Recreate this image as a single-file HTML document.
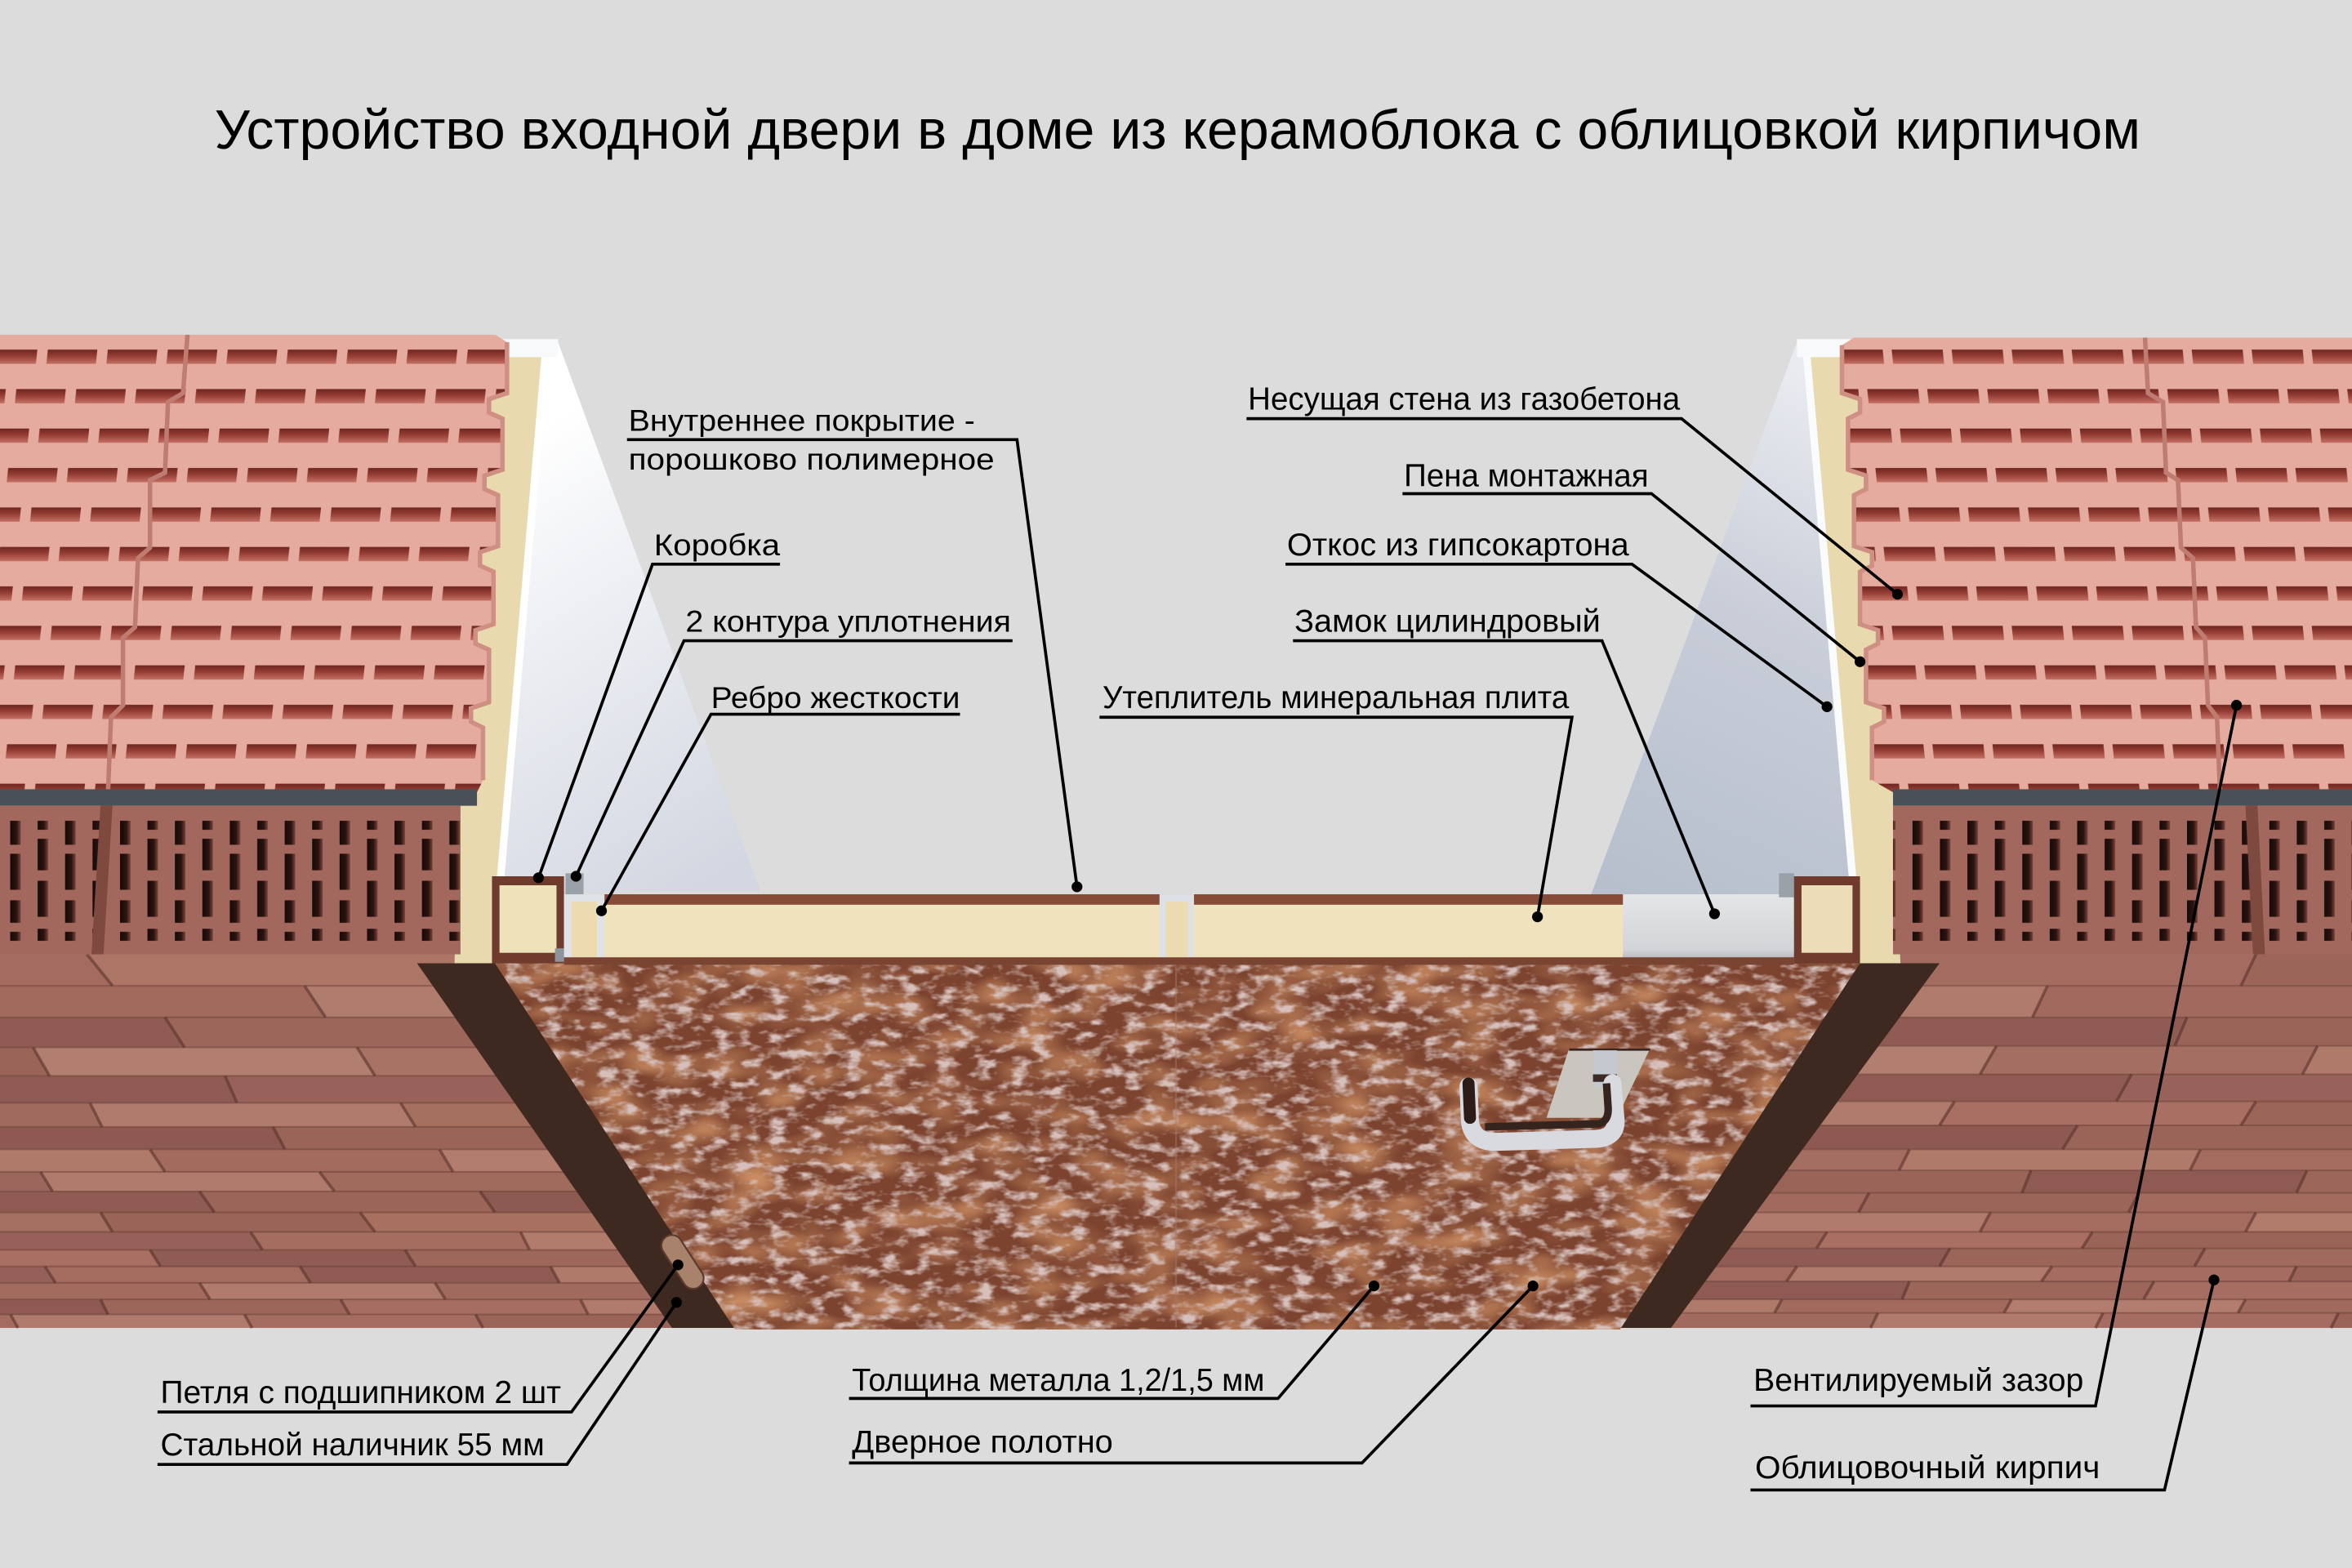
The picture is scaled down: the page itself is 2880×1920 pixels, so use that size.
<!DOCTYPE html>
<html><head><meta charset="utf-8">
<style>
html,body{margin:0;padding:0;background:#dcdcdc;}
svg{display:block;}
text{font-family:"Liberation Sans", sans-serif; fill:#000;}
</style></head><body>
<svg width="2880" height="1920" viewBox="0 0 1568 1045" preserveAspectRatio="none" xmlns="http://www.w3.org/2000/svg">
<defs>
  <linearGradient id="slot" x1="0" y1="0" x2="0" y2="1">
    <stop offset="0" stop-color="#6e2520"/><stop offset="0.45" stop-color="#953d35"/><stop offset="1" stop-color="#c47064"/>
  </linearGradient>
  <pattern id="slotsL" patternUnits="userSpaceOnUse" width="40" height="52.6" patternTransform="translate(28,232) skewX(-5.9)">
    <rect x="4" y="1" width="33" height="9.5" fill="url(#slot)"/>
    <rect x="25.7" y="27.3" width="33" height="9.5" fill="url(#slot)"/>
    <rect x="-14.3" y="27.3" width="33" height="9.5" fill="url(#slot)"/>
  </pattern>
  <pattern id="slotsR" patternUnits="userSpaceOnUse" width="40" height="52.6" patternTransform="translate(1257,232) skewX(5.9)">
    <rect x="4" y="1" width="34" height="9.5" fill="url(#slot)"/>
    <rect x="25" y="27.3" width="34" height="9.5" fill="url(#slot)"/>
    <rect x="-15" y="27.3" width="34" height="9.5" fill="url(#slot)"/>
  </pattern>
  <linearGradient id="hs" x1="0" y1="0" x2="1" y2="0">
    <stop offset="0" stop-color="#170a08"/><stop offset="0.6" stop-color="#2a1310"/><stop offset="1" stop-color="#7a4338"/>
  </linearGradient>
  <pattern id="hollowL" patternUnits="userSpaceOnUse" width="36.6" height="98" patternTransform="translate(80,538)">
    <rect x="0" y="9" width="7" height="16" fill="url(#hs)"/>
    <rect x="0" y="31" width="7" height="24" fill="url(#hs)"/>
    <rect x="0" y="62" width="7" height="15" fill="url(#hs)"/>
    <rect x="0" y="83" width="7" height="6" fill="url(#hs)"/>
    <rect x="18.3" y="9" width="7" height="6" fill="url(#hs)"/>
    <rect x="18.3" y="21" width="7" height="21" fill="url(#hs)"/>
    <rect x="18.3" y="49" width="7" height="24" fill="url(#hs)"/>
    <rect x="18.3" y="81" width="7" height="8" fill="url(#hs)"/>
  </pattern>
  <pattern id="hollowR" patternUnits="userSpaceOnUse" width="36.6" height="98" patternTransform="translate(1275,538)">
    <rect x="0" y="9" width="7" height="16" fill="url(#hs)"/>
    <rect x="0" y="31" width="7" height="24" fill="url(#hs)"/>
    <rect x="0" y="62" width="7" height="15" fill="url(#hs)"/>
    <rect x="0" y="83" width="7" height="6" fill="url(#hs)"/>
    <rect x="18.3" y="9" width="7" height="6" fill="url(#hs)"/>
    <rect x="18.3" y="21" width="7" height="21" fill="url(#hs)"/>
    <rect x="18.3" y="49" width="7" height="24" fill="url(#hs)"/>
    <rect x="18.3" y="81" width="7" height="8" fill="url(#hs)"/>
  </pattern>
  <linearGradient id="otkL" gradientUnits="userSpaceOnUse" x1="335" y1="300" x2="500" y2="570">
    <stop offset="0" stop-color="#ffffff"/><stop offset="0.35" stop-color="#eef0f4"/><stop offset="1" stop-color="#d3d7e1"/>
  </linearGradient>
  <linearGradient id="otkR" gradientUnits="userSpaceOnUse" x1="1075" y1="590" x2="1225" y2="260">
    <stop offset="0" stop-color="#b7bfcd"/><stop offset="0.55" stop-color="#c8cdd8"/><stop offset="1" stop-color="#e9ebf0"/>
  </linearGradient>
  <linearGradient id="lockG" x1="0" y1="0" x2="0" y2="1">
    <stop offset="0" stop-color="#e4e5e7"/><stop offset="0.8" stop-color="#d2d4d7"/><stop offset="1" stop-color="#a9adb2"/>
  </linearGradient>
  <filter id="mot" x="0" y="0" width="1" height="1">
    <feTurbulence type="fractalNoise" baseFrequency="0.08 0.16" numOctaves="3" seed="7" result="n"/>
    <feColorMatrix in="n" type="matrix" values="0 0 0 0 0.68  0 0 0 0 0.53  0 0 0 0 0.50  0 0 0 -3.4 1.78" result="c"/>
    <feComposite in="c" in2="SourceGraphic" operator="in"/>
  </filter>
  <filter id="rust" x="0" y="0" width="1" height="1">
    <feTurbulence type="fractalNoise" baseFrequency="0.025 0.05" numOctaves="2" seed="11" result="n"/>
    <feColorMatrix in="n" type="matrix" values="0 0 0 0 0.58  0 0 0 0 0.26  0 0 0 0 0.12  0 0 0 2.2 -0.9" result="c"/>
    <feComposite in="c" in2="SourceGraphic" operator="in"/>
  </filter>
  <clipPath id="pinkL"><polygon points="0,223 330,223 338,228 338,262 326,266 326,275 335,279 335,313 323,317 323,326 332,330 332,364 320,368 320,377 329,381 329,416 317,420 317,429 326,433 326,468 314,472 314,481 322,485 322,520 318,528 0,528"/></clipPath>
  <clipPath id="pinkR"><polygon points="1568,225 1236,225 1228,230 1228,262 1240,266 1240,275 1232,279 1232,313 1244,317 1244,326 1236,330 1236,364 1248,368 1248,377 1240,381 1240,416 1252,420 1252,429 1244,433 1244,468 1256,472 1256,481 1248,485 1248,520 1262,528 1568,528"/></clipPath>
</defs>

<rect x="0" y="0" width="1568" height="1045" fill="#dcdcdc"/>

<!-- Reveals -->
<polygon points="326,228 372,228 507,594 326,594" fill="url(#otkL)"/>
<polygon points="1198,228 1215,228 1242,598 1060,598" fill="url(#otkR)"/>

<!-- LEFT brick face rows -->
<g>
<rect x="-10" y="636" width="540" height="21" fill="#a46c60"/><polygon points="58,636 530,636 530,657 75,657" fill="#ad7566"/>
<rect x="-10" y="657" width="540" height="21" fill="#a2695d"/><polygon points="203,657 530,657 530,678 217,678" fill="#b07c6d"/>
<rect x="-10" y="678" width="540" height="20" fill="#8f5b53"/><polygon points="110,678 530,678 530,698 123,698" fill="#9c665a"/>
<rect x="-10" y="698" width="540" height="19" fill="#9a6458"/><polygon points="22,698 530,698 530,717 33,717" fill="#b27e6f"/><polygon points="238,698 530,698 530,717 250,717" fill="#a87264"/>
<rect x="-10" y="717" width="540" height="18" fill="#8e5a52"/><polygon points="150,717 530,717 530,735 158,735" fill="#98625a"/>
<rect x="-10" y="735" width="540" height="16" fill="#a06a5e"/><polygon points="60,735 530,735 530,751 68,751" fill="#b07b6c"/><polygon points="267,735 530,735 530,751 277,751" fill="#a6705f"/>
<rect x="-10" y="751" width="540" height="15" fill="#8d5951"/><polygon points="182,751 530,751 530,766 190,766" fill="#9a6459"/>
<rect x="-10" y="766" width="540" height="15" fill="#b07a6b"/><polygon points="100,766 530,766 530,781 110,781" fill="#a36b5e"/><polygon points="293,766 530,766 530,781 302,781" fill="#b27d6e"/>
<rect x="-10" y="781" width="540" height="13" fill="#9b665b"/><polygon points="27,781 530,781 530,794 35,794" fill="#b07a6c"/><polygon points="213,781 530,781 530,794 223,794" fill="#a06a5d"/>
<rect x="-10" y="794" width="540" height="14" fill="#8f5b53"/><polygon points="133,794 530,794 530,808 143,808" fill="#9c6559"/><polygon points="320,794 530,794 530,808 330,808" fill="#8d5a52"/>
<rect x="-10" y="808" width="540" height="13" fill="#a56f62"/><polygon points="67,808 530,808 530,821 75,821" fill="#9a6458"/><polygon points="240,808 530,808 530,821 250,821" fill="#a8705f"/>
<rect x="-10" y="821" width="540" height="12" fill="#96615a"/><polygon points="167,821 530,821 530,833 175,833" fill="#a56d60"/><polygon points="347,821 530,821 530,833 353,833" fill="#b27c6c"/>
<rect x="-10" y="833" width="540" height="11" fill="#a86f62"/><polygon points="100,833 530,833 530,844 107,844" fill="#8f5b53"/><polygon points="270,833 530,833 530,844 277,844" fill="#9d675b"/>
<rect x="-10" y="844" width="540" height="11" fill="#95605a"/><polygon points="30,844 530,844 530,855 37,855" fill="#a46c5f"/><polygon points="200,844 530,844 530,855 207,855" fill="#8e5a52"/><polygon points="367,844 530,844 530,855 373,855" fill="#b07a6b"/>
<rect x="-10" y="855" width="540" height="11" fill="#a36b5e"/><polygon points="133,855 530,855 530,866 140,866" fill="#b07a6c"/><polygon points="290,855 530,855 530,866 297,866" fill="#a06a5e"/>
<rect x="-10" y="866" width="540" height="10" fill="#8e5a52"/><polygon points="67,866 530,866 530,876 72,876" fill="#9d665a"/><polygon points="227,866 530,866 530,876 233,876" fill="#a66e62"/><polygon points="387,866 530,866 530,876 392,876" fill="#b07b6c"/>
<rect x="-10" y="876" width="540" height="9" fill="#a46c60"/><polygon points="7,876 530,876 530,885 12,885" fill="#b07b6c"/><polygon points="163,876 530,876 530,885 168,885" fill="#a56d61"/><polygon points="317,876 530,876 530,885 322,885" fill="#9a6458"/>
<path d="M-10 657H530M-10 678H530M-10 698H530M-10 717H530M-10 735H530M-10 751H530M-10 766H530M-10 781H530M-10 794H530M-10 808H530M-10 821H530M-10 833H530M-10 844H530M-10 855H530M-10 866H530M-10 876H530" stroke="#6a3d35" stroke-width="1.1" opacity="0.5" fill="none"/>
<path d="M58 636L75 657M203 657L217 678M110 678L123 698M22 698L33 717M238 698L250 717M150 717L158 735M60 735L68 751M267 735L277 751M182 751L190 766M100 766L110 781M293 766L302 781M27 781L35 794M213 781L223 794M133 794L143 808M320 794L330 808M67 808L75 821M240 808L250 821M167 821L175 833M347 821L353 833M100 833L107 844M270 833L277 844M30 844L37 855M200 844L207 855M367 844L373 855M133 855L140 866M290 855L297 866M67 866L72 876M227 866L233 876M387 866L392 876M7 876L12 885M163 876L168 885M317 876L322 885" stroke="#5a322b" stroke-width="2" opacity="0.6" fill="none"/>
</g>

<!-- RIGHT brick face rows -->
<g>
<rect x="1060" y="636" width="520" height="21" fill="#a46c60"/><polygon points="1504,636 1580,636 1580,657 1494,657" fill="#9c6559"/>
<rect x="1060" y="657" width="520" height="21" fill="#b07b6c"/><polygon points="1365,657 1580,657 1580,678 1355,678" fill="#a26a5e"/>
<rect x="1060" y="678" width="520" height="19" fill="#8f5b53"/><polygon points="1458,678 1580,678 1580,697 1450,697" fill="#9a6459"/>
<rect x="1060" y="697" width="520" height="19" fill="#b27e6f"/><polygon points="1331,697 1580,697 1580,716 1320,716" fill="#a56e62"/><polygon points="1545,697 1580,697 1580,716 1535,716" fill="#b07a6b"/>
<rect x="1060" y="716" width="520" height="18" fill="#8e5a52"/><polygon points="1421,716 1580,716 1580,734 1411,734" fill="#98625a"/>
<rect x="1060" y="734" width="520" height="16" fill="#b07b6c"/><polygon points="1303,734 1580,734 1580,750 1293,750" fill="#a86f62"/><polygon points="1504,734 1580,734 1580,750 1494,750" fill="#9b655a"/>
<rect x="1060" y="750" width="520" height="16" fill="#8d5951"/><polygon points="1385,750 1580,750 1580,766 1375,766" fill="#9a6459"/>
<rect x="1060" y="766" width="520" height="14" fill="#a56e62"/><polygon points="1273,766 1580,766 1580,780 1266,780" fill="#b07a6b"/><polygon points="1467,766 1580,766 1580,780 1460,780" fill="#a46c5f"/>
<rect x="1060" y="780" width="520" height="15" fill="#9a6459"/><polygon points="1354,780 1580,780 1580,795 1348,795" fill="#8e5a52"/><polygon points="1538,780 1580,780 1580,795 1531,795" fill="#9c665a"/>
<rect x="1060" y="795" width="520" height="13" fill="#a26a5e"/><polygon points="1246,795 1580,795 1580,808 1239,808" fill="#9b655a"/><polygon points="1426,795 1580,795 1580,808 1419,808" fill="#a36b5e"/>
<rect x="1060" y="808" width="520" height="13" fill="#b07b6c"/><polygon points="1327,808 1580,808 1580,821 1320,821" fill="#a56d60"/><polygon points="1504,808 1580,808 1580,821 1497,821" fill="#b27c6c"/>
<rect x="1060" y="821" width="520" height="11" fill="#9d675b"/><polygon points="1218,821 1580,821 1580,832 1211,832" fill="#a86f62"/><polygon points="1395,821 1580,821 1580,832 1388,832" fill="#9a6459"/>
<rect x="1060" y="832" width="520" height="12" fill="#8f5b53"/><polygon points="1300,832 1580,832 1580,844 1293,844" fill="#9b655a"/><polygon points="1470,832 1580,832 1580,844 1463,844" fill="#a06a5e"/>
<rect x="1060" y="844" width="520" height="10" fill="#a46c60"/><polygon points="1198,844 1580,844 1580,854 1191,854" fill="#b07b6c"/><polygon points="1368,844 1580,844 1580,854 1361,854" fill="#a56d61"/><polygon points="1531,844 1580,844 1580,854 1526,854" fill="#9a6458"/>
<rect x="1060" y="854" width="520" height="12" fill="#8e5a52"/><polygon points="1273,854 1580,854 1580,866 1268,866" fill="#9d665a"/><polygon points="1436,854 1580,854 1580,866 1429,866" fill="#a66e62"/>
<rect x="1060" y="866" width="520" height="9" fill="#b07a6b"/><polygon points="1188,866 1580,866 1580,875 1183,875" fill="#a36b5e"/><polygon points="1341,866 1580,866 1580,875 1336,875" fill="#b27d6e"/><polygon points="1497,866 1580,866 1580,875 1492,875" fill="#a06a5e"/>
<rect x="1060" y="875" width="520" height="10" fill="#a06a5e"/><polygon points="1252,875 1580,875 1580,885 1247,885" fill="#b07b6c"/><polygon points="1402,875 1580,875 1580,885 1397,885" fill="#a56d61"/><polygon points="1559,875 1580,875 1580,885 1554,885" fill="#9a6458"/>
<path d="M1060 657H1580M1060 678H1580M1060 697H1580M1060 716H1580M1060 734H1580M1060 750H1580M1060 766H1580M1060 780H1580M1060 795H1580M1060 808H1580M1060 821H1580M1060 832H1580M1060 844H1580M1060 854H1580M1060 866H1580M1060 875H1580" stroke="#6a3d35" stroke-width="1.1" opacity="0.5" fill="none"/>
<path d="M1504 636L1494 657M1365 657L1355 678M1458 678L1450 697M1331 697L1320 716M1545 697L1535 716M1421 716L1411 734M1303 734L1293 750M1504 734L1494 750M1385 750L1375 766M1273 766L1266 780M1467 766L1460 780M1354 780L1348 795M1538 780L1531 795M1246 795L1239 808M1426 795L1419 808M1327 808L1320 821M1504 808L1497 821M1218 821L1211 832M1395 821L1388 832M1300 832L1293 844M1470 832L1463 844M1198 844L1191 854M1368 844L1361 854M1531 844L1526 854M1273 854L1268 866M1436 854L1429 866M1188 866L1183 875M1341 866L1336 875M1497 866L1492 875M1252 875L1247 885M1402 875L1397 885M1559 875L1554 885" stroke="#5a322b" stroke-width="2" opacity="0.6" fill="none"/>
</g>

<!-- Foam -->
<polygon points="312,238 362,238 331,643 303,643" fill="#e9d9ae"/>
<polygon points="1205,238 1250,238 1267,643 1238,643" fill="#e9d9ae"/>
<line x1="364" y1="231" x2="333" y2="594" stroke="#ffffff" stroke-width="5"/>
<line x1="1204" y1="231" x2="1236" y2="596" stroke="#fafbfd" stroke-width="5"/>
<rect x="320" y="226" width="52" height="12" fill="#f8f9fb"/>
<rect x="1198" y="226" width="40" height="12" fill="#f8f9fb"/>

<!-- Pink ceramic blocks LEFT -->
<g clip-path="url(#pinkL)">
  <rect x="0" y="220" width="345" height="310" fill="#e5ab9f"/>
  <rect x="0" y="228" width="345" height="300" fill="url(#slotsL)"/>
  <path d="M125 223 L122 262 L112 268 L110 315 L100 320 L100 365 L92 372 L90 418 L82 425 L82 470 L74 478 L72 528" stroke="#bf7c70" stroke-width="3" fill="none"/>
</g>
<polyline points="338,228 338,262 326,266 326,275 335,279 335,313 323,317 323,326 332,330 332,364 320,368 320,377 329,381 329,416 317,420 317,429 326,433 326,468 314,472 314,481 322,485 322,520" fill="none" stroke="#cf8f83" stroke-width="3"/>

<!-- Pink ceramic blocks RIGHT -->
<g clip-path="url(#pinkR)">
  <rect x="1220" y="220" width="350" height="310" fill="#e5ab9f"/>
  <rect x="1220" y="228" width="350" height="300" fill="url(#slotsR)"/>
  <path d="M1430 225 L1432 262 L1442 268 L1444 315 L1452 320 L1454 365 L1462 372 L1464 418 L1470 425 L1472 470 L1478 478 L1480 528" stroke="#bf7c70" stroke-width="3" fill="none"/>
</g>
<polyline points="1228,230 1228,262 1240,266 1240,275 1232,279 1232,313 1244,317 1244,326 1236,330 1236,364 1248,368 1248,377 1240,381 1240,416 1252,420 1252,429 1244,433 1244,468 1256,472 1256,481 1248,485 1248,520" fill="none" stroke="#cf8f83" stroke-width="3"/>

<!-- Dark mortar strips -->
<rect x="0" y="526" width="318" height="11" fill="#4a5057"/>
<rect x="1262" y="526" width="306" height="11" fill="#4a5057"/>

<!-- Hollow facing bricks (top) -->
<rect x="0" y="537" width="307" height="99" fill="#a2685d"/>
<rect x="0" y="537" width="307" height="99" fill="url(#hollowL)"/>
<polygon points="67,537 75,537 69,636 61,636" fill="#7e4a40"/>
<rect x="1262" y="537" width="306" height="99" fill="#a2685d"/>
<rect x="1262" y="537" width="306" height="99" fill="url(#hollowR)"/>
<polygon points="1497,537 1505,537 1510,636 1502,636" fill="#7e4a40"/>

<!-- Frames -->
<polygon points="278,642 330,642 490,885 448,885" fill="#3d2920"/>
<polygon points="1240,642 1293,642 1114,885 1080,885" fill="#3d2920"/>

<!-- Door leaf -->
<polygon points="330,642 1240,642 1080,886 490,886" fill="#7c432f"/>
<polygon points="330,642 1240,642 1080,886 490,886" fill="#000" filter="url(#rust)"/>
<polygon points="330,642 1240,642 1080,886 490,886" fill="#000" filter="url(#mot)"/>
<line x1="784" y1="644" x2="784" y2="885" stroke="#a77a6c" stroke-width="1.2" opacity="0.45"/>

<!-- Cross-section -->
<rect x="328" y="584" width="48" height="58" fill="#6e3b2c"/>
<rect x="333" y="590" width="38" height="45" fill="#efe1b9"/>
<rect x="370" y="632" width="12" height="9" fill="#8d949c"/>
<rect x="377" y="582" width="12" height="16" fill="#9aa0a8"/>
<rect x="400" y="596" width="682" height="7" fill="#874c38"/>
<rect x="402" y="603" width="680" height="36" fill="#f0e2bd"/>
<rect x="376" y="596" width="27" height="46" fill="#dfe2e7"/>
<rect x="381" y="601" width="17" height="37" fill="#ecdbb0"/>
<rect x="773" y="596" width="23" height="46" fill="#dde0e5"/>
<rect x="777" y="601" width="15" height="38" fill="#ecdbb0"/>
<rect x="1082" y="596" width="114" height="46" fill="url(#lockG)"/>
<rect x="1196" y="618" width="14" height="7" fill="#eef2f5"/>
<rect x="1196" y="628" width="9" height="6" fill="#e4e8ec"/>
<rect x="1186" y="582" width="10" height="16" fill="#9aa0a8"/>
<rect x="1196" y="584" width="44" height="58" fill="#6e3b2c"/>
<rect x="1201" y="590" width="34" height="45" fill="#ecdcb8"/>
<rect x="376" y="638" width="820" height="5" fill="#7a4433"/>

<!-- Handle -->
<polygon points="1046,699 1100,699 1078,745 1031,745" fill="#c9c5bf"/>
<line x1="1046" y1="699.5" x2="1100" y2="699.5" stroke="#3a2620" stroke-width="1.5"/>
<rect x="1062" y="700" width="16" height="24" fill="#c4c9cf"/>
<rect x="1062" y="716" width="16" height="5" fill="#3b2a25"/>
<path d="M979 724 L980 748 Q982 761 997 761 L1064 759 Q1078 758 1077 746 L1075 722" stroke="#d8dadf" stroke-width="12" fill="none" stroke-linecap="round"/>
<path d="M979 722 L980 745" stroke="#2c1b17" stroke-width="8" fill="none" stroke-linecap="round"/>
<path d="M990 751 L1066 749 Q1073 747 1072 737 L1071 722" stroke="#35231e" stroke-width="5" fill="none"/>

<!-- Hinge -->
<g transform="rotate(57 455 841)">
  <rect x="435" y="834" width="40" height="14" rx="7" fill="#a9826c" stroke="#5c3b2c" stroke-width="1.2"/>
</g>

<!-- Leader lines -->
<g stroke="#000" fill="none" stroke-width="2">
  <path d="M418 293 H678 L718 591"/>
  <path d="M520 376 H435 L359 585"/>
  <path d="M675 427 H456 L384 584"/>
  <path d="M640 476 H474 L401 607"/>
  <path d="M831 279 H1121 L1265 396"/>
  <path d="M935 329 H1101 L1240 441"/>
  <path d="M857 376 H1088 L1218 471"/>
  <path d="M862 427 H1068 L1143 609"/>
  <path d="M733 478 H1048 L1025 611"/>
  <path d="M105 941 H381 L452 843"/>
  <path d="M105 976 H378 L451 868"/>
  <path d="M566 932 H852 L916 857"/>
  <path d="M566 975 H908 L1022 857"/>
  <path d="M1167 937 H1397 L1491 470"/>
  <path d="M1167 993 H1443 L1476 853"/>
</g>
<g fill="#000">
  <circle cx="718" cy="591" r="3.6"/>
  <circle cx="359" cy="585" r="3.6"/>
  <circle cx="384" cy="584" r="3.6"/>
  <circle cx="401" cy="607" r="3.6"/>
  <circle cx="1265" cy="396" r="3.6"/>
  <circle cx="1240" cy="441" r="3.6"/>
  <circle cx="1218" cy="471" r="3.6"/>
  <circle cx="1143" cy="609" r="3.6"/>
  <circle cx="1025" cy="611" r="3.6"/>
  <circle cx="452" cy="843" r="3.6"/>
  <circle cx="451" cy="868" r="3.6"/>
  <circle cx="916" cy="857" r="3.6"/>
  <circle cx="1022" cy="857" r="3.6"/>
  <circle cx="1491" cy="470" r="3.6"/>
  <circle cx="1476" cy="853" r="3.6"/>
</g>

<!-- Labels -->
<g font-size="20">
  <text x="419" y="287" textLength="231" lengthAdjust="spacingAndGlyphs">Внутреннее покрытие -</text>
  <text x="419" y="313" textLength="244" lengthAdjust="spacingAndGlyphs">порошково полимерное</text>
  <text x="436" y="370" textLength="84" lengthAdjust="spacingAndGlyphs">Коробка</text>
  <text x="457" y="421" textLength="217" lengthAdjust="spacingAndGlyphs">2 контура уплотнения</text>
  <text x="474" y="472" textLength="166" lengthAdjust="spacingAndGlyphs">Ребро жесткости</text>
</g>
<g font-size="21">
  <text x="832" y="273" textLength="288" lengthAdjust="spacingAndGlyphs">Несущая стена из газобетона</text>
  <text x="936" y="324" textLength="163" lengthAdjust="spacingAndGlyphs">Пена монтажная</text>
  <text x="858" y="370" textLength="228" lengthAdjust="spacingAndGlyphs">Откос из гипсокартона</text>
  <text x="863" y="421" textLength="204" lengthAdjust="spacingAndGlyphs">Замок цилиндровый</text>
  <text x="735" y="472" textLength="311" lengthAdjust="spacingAndGlyphs">Утеплитель минеральная плита</text>
  <text x="107" y="935" textLength="267" lengthAdjust="spacingAndGlyphs">Петля с подшипником 2 шт</text>
  <text x="107" y="970" textLength="256" lengthAdjust="spacingAndGlyphs">Стальной наличник 55 мм</text>
  <text x="568" y="927" textLength="275" lengthAdjust="spacingAndGlyphs">Толщина металла 1,2/1,5 мм</text>
  <text x="568" y="968" textLength="174" lengthAdjust="spacingAndGlyphs">Дверное полотно</text>
  <text x="1169" y="927" textLength="220" lengthAdjust="spacingAndGlyphs">Вентилируемый зазор</text>
  <text x="1170" y="985" textLength="230" lengthAdjust="spacingAndGlyphs">Облицовочный кирпич</text>
</g>

<!-- Title -->
<text x="143" y="99" font-size="37" textLength="1284" lengthAdjust="spacingAndGlyphs">Устройство входной двери в доме из керамоблока с облицовкой кирпичом</text>
</svg>
</body></html>
